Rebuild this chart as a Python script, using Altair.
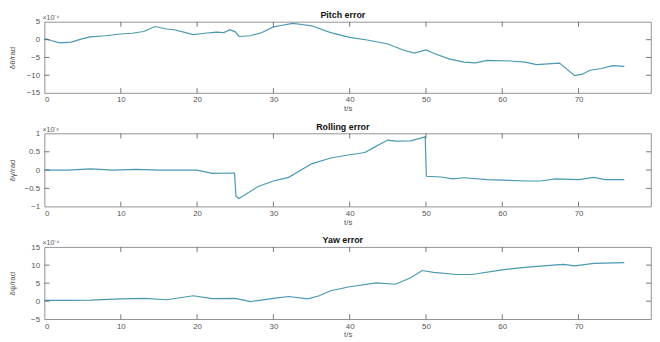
import altair as alt
import pandas as pd

pitch_t = [0, 1, 2, 3.5, 5, 6, 8, 10, 11.5, 13, 14.5, 16, 17, 18.5, 19.5, 21, 22.5, 23.5, 24.3, 25, 25.5, 27, 28.5, 30, 31, 32.5, 34, 35, 37.5,
           40, 42.3, 45, 47, 48.5, 50, 51, 53, 55, 56.5, 58, 61, 63, 64.5, 67.5, 69.5, 70.5, 71.5, 73, 74.5, 76]
pitch_v = [0.3, -0.3, -0.9, -0.7, 0.3, 0.8, 1.1, 1.6, 1.8, 2.3, 3.7, 3.0, 2.8, 2.0, 1.4, 1.8, 2.1, 2.0, 2.8, 2.2, 0.9, 1.1, 2.0, 3.6, 4.0, 4.6, 4.2, 3.9, 2.0,
           0.65, -0.1, -1.2, -2.9, -3.8, -2.9, -3.8, -5.4, -6.3, -6.5, -5.8, -6.0, -6.3, -7.0, -6.6, -10.1, -9.7, -8.6, -8.1, -7.3, -7.5]

roll_t = [0, 3, 6, 9, 12, 15, 18, 20, 22, 24.9, 25.1, 25.5, 28, 30, 32, 35, 37.5, 40, 42, 43, 45, 46, 48, 49.9,
          50.05, 52, 53.5, 55, 58, 63, 65, 67, 70, 72, 73.5, 76]
roll_v = [0.0, 0.0, 0.03, 0.0, 0.02, 0.0, 0.0, 0.0, -0.09, -0.08, -0.72, -0.78, -0.45, -0.3, -0.2, 0.17, 0.33, 0.42, 0.48, 0.6, 0.82, 0.79, 0.8, 0.91,
          -0.17, -0.19, -0.24, -0.21, -0.26, -0.3, -0.3, -0.24, -0.26, -0.2, -0.26, -0.26]

yaw_t = [0, 3, 6, 10, 13, 16, 19.5, 22, 25, 27, 30, 32, 34.5, 36, 37.5, 40, 43.5, 46, 48, 49.5, 51, 54, 56, 60, 63, 65, 68, 69.5, 72, 76]
yaw_v = [0.2, 0.2, 0.3, 0.65, 0.8, 0.4, 1.5, 0.7, 0.8, -0.1, 0.8, 1.3, 0.65, 1.5, 2.9, 4.0, 5.1, 4.7, 6.5, 8.5, 8.0, 7.4, 7.4, 8.7, 9.4, 9.7, 10.2, 9.8, 10.5, 10.7]

panels = [
    ("Pitch error", "δθ/rad", "×10⁻⁴", pitch_t, pitch_v, [-15, 5], [-15, -10, -5, 0, 5], 72),
    ("Rolling error", "δγ/rad", "×10⁻³", roll_t, roll_v, [-1, 1], [-1, -0.5, 0, 0.5, 1], 74),
    ("Yaw error", "δψ/rad", "×10⁻⁴", yaw_t, yaw_v, [-5, 15], [-5, 0, 5, 10, 15], 73),
]
x_ticks = [0, 10, 20, 30, 40, 50, 60, 70]

W = 614
LINE = "#4a98b2"
GRAY = "#555555"
FONT = "Liberation Sans"

charts = []
for title, ytitle, expo, ts, vs, ydom, yticks, H in panels:
    df = pd.DataFrame({"t": ts, "v": vs})
    xs = alt.Scale(domain=[0, 79.5], nice=False)
    ys = alt.Scale(domain=ydom, nice=False)
    xax = alt.Axis(values=x_ticks, title="t/s", ticks=False, domain=False, grid=False,
                   labelPadding=3, labelFontSize=8, labelColor=GRAY, titleFontSize=8,
                   titleColor=GRAY, titleFontWeight="normal", titlePadding=1, labelFont=FONT,
                   titleFont=FONT, labelOverlap=False)
    yax = alt.Axis(values=yticks, title=ytitle, ticks=False, domain=False, grid=False, format="~g",
                   labelPadding=5, labelFontSize=8, labelColor=GRAY, titleFontSize=8,
                   titleColor=GRAY, titleFontWeight="normal", titlePadding=6, minExtent=22, maxExtent=22,
                   labelFont=FONT, titleFont=FONT, labelOverlap=False)
    X = lambda: alt.X("t:Q", scale=xs, axis=xax, title="t/s")
    Y = lambda: alt.Y("v:Q", scale=ys, axis=yax, title=ytitle)
    line = alt.Chart(df).mark_line(color=LINE, strokeWidth=1.2).encode(x=X(), y=Y())
    xt = pd.DataFrame({"t": x_ticks[1:]})
    yt = pd.DataFrame({"v": yticks[1:-1]})
    top_ticks = alt.Chart(xt).mark_rule(color=GRAY, strokeWidth=0.8).encode(
        x=X(), y=alt.value(0), y2=alt.value(5))
    bot_ticks = alt.Chart(xt).mark_rule(color=GRAY, strokeWidth=0.8).encode(
        x=X(), y=alt.value(H), y2=alt.value(H - 5))
    left_ticks = alt.Chart(yt).mark_rule(color=GRAY, strokeWidth=0.8).encode(
        y=Y(), x=alt.value(0), x2=alt.value(5))
    right_ticks = alt.Chart(yt).mark_rule(color=GRAY, strokeWidth=0.8).encode(
        y=Y(), x=alt.value(W - 5), x2=alt.value(W))
    expo_txt = alt.Chart(pd.DataFrame({"s": [expo]})).mark_text(
        align="left", baseline="bottom", fontSize=7, color=GRAY, font=FONT).encode(
        text="s:N", x=alt.value(-2), y=alt.value(-1))
    title_txt = alt.Chart(pd.DataFrame({"s": [title]})).mark_text(
        align="center", baseline="alphabetic", fontSize=9, fontWeight="bold", color="#111111", font=FONT).encode(
        text="s:N", x=alt.value(W / 2 - 5), y=alt.value(-4))
    c = alt.layer(line, top_ticks, bot_ticks, left_ticks, right_ticks, expo_txt, title_txt).properties(
        width=W, height=H,
    )
    charts.append(c)

chart = alt.vconcat(*charts, spacing=8).properties(
    padding={"left": 0, "top": 0, "right": 0, "bottom": 0}
).configure_view(stroke="#777777", strokeWidth=0.8).configure_concat(spacing=8)

chart.save("out.html", embed_options={"renderer": "svg", "actions": False})
